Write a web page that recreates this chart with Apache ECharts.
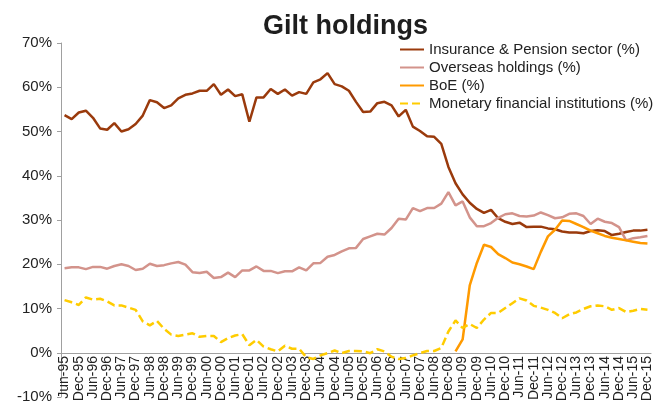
<!DOCTYPE html>
<html>
<head>
<meta charset="utf-8">
<script src="https://cdn.jsdelivr.net/npm/echarts@6/dist/echarts.min.js"></script>
<style>
    html, body { margin: 0; padding: 0; background: #fff; }
    #container_gilt { width: 657px; height: 401px; }
</style>
</head>
<body>
<div id="container_gilt"></div>
<script>
// quarterly categories, Jun-95 .. Dec-15
var quarters = [
    'Jun-95', 'Sep-95', 'Dec-95',
    'Mar-96', 'Jun-96', 'Sep-96', 'Dec-96',
    'Mar-97', 'Jun-97', 'Sep-97', 'Dec-97',
    'Mar-98', 'Jun-98', 'Sep-98', 'Dec-98',
    'Mar-99', 'Jun-99', 'Sep-99', 'Dec-99',
    'Mar-00', 'Jun-00', 'Sep-00', 'Dec-00',
    'Mar-01', 'Jun-01', 'Sep-01', 'Dec-01',
    'Mar-02', 'Jun-02', 'Sep-02', 'Dec-02',
    'Mar-03', 'Jun-03', 'Sep-03', 'Dec-03',
    'Mar-04', 'Jun-04', 'Sep-04', 'Dec-04',
    'Mar-05', 'Jun-05', 'Sep-05', 'Dec-05',
    'Mar-06', 'Jun-06', 'Sep-06', 'Dec-06',
    'Mar-07', 'Jun-07', 'Sep-07', 'Dec-07',
    'Mar-08', 'Jun-08', 'Sep-08', 'Dec-08',
    'Mar-09', 'Jun-09', 'Sep-09', 'Dec-09',
    'Mar-10', 'Jun-10', 'Sep-10', 'Dec-10',
    'Mar-11', 'Jun-11', 'Sep-11', 'Dec-11',
    'Mar-12', 'Jun-12', 'Sep-12', 'Dec-12',
    'Mar-13', 'Jun-13', 'Sep-13', 'Dec-13',
    'Mar-14', 'Jun-14', 'Sep-14', 'Dec-14',
    'Mar-15', 'Jun-15', 'Sep-15', 'Dec-15'
];

var insurance = [
    53.7, 52.8, 54.3, 54.7, 53.1, 50.7, 50.4, 51.9, 50.0, 50.5,
    51.7, 53.6, 57.1, 56.6, 55.3, 55.9, 57.5, 58.3, 58.6, 59.2,
    59.2, 60.7, 58.3, 59.5, 58.0, 58.4, 52.2, 57.7, 57.7, 59.6,
    58.5, 59.5, 58.1, 58.9, 58.5, 61.1, 61.8, 63.2, 60.7, 60.2,
    59.2, 56.7, 54.4, 54.5, 56.4, 56.7, 55.9, 53.4, 54.9, 51.1,
    50.1, 48.9, 48.8, 47.2, 42.0, 38.3, 35.8, 33.9, 32.5, 31.6,
    32.3, 30.4, 29.6, 29.1, 29.4, 28.4, 28.5, 28.5, 28.1, 27.9,
    27.4, 27.2, 27.2, 27.0, 27.5, 27.7, 27.5, 26.6, 26.9, 27.3,
    27.6, 27.6, 27.8
];

var overseas = [
    19.1, 19.3, 19.3, 18.9, 19.4, 19.4, 19.0, 19.6, 20.0, 19.6,
    18.7, 19.0, 20.1, 19.6, 19.8, 20.2, 20.5, 19.9, 18.2, 18.0,
    18.3, 16.9, 17.1, 18.1, 17.1, 18.6, 18.6, 19.5, 18.5, 18.5,
    18.0, 18.4, 18.4, 19.3, 18.6, 20.2, 20.3, 21.7, 22.1, 22.9,
    23.6, 23.7, 25.7, 26.3, 26.9, 26.7, 28.2, 30.3, 30.1, 32.7,
    32.0, 32.7, 32.7, 33.7, 36.3, 33.3, 34.2, 30.6, 28.6, 28.6,
    29.3, 30.5, 31.3, 31.5, 30.9, 30.8, 31.0, 31.7, 31.1, 30.4,
    30.6, 31.4, 31.5, 30.9, 29.1, 30.3, 29.6, 29.3, 28.4, 25.4,
    25.9, 26.1, 26.4
];

// BoE holdings only start with QE
var boeQuarters = [
    'Mar-09', 'Jun-09', 'Sep-09', 'Dec-09',
    'Mar-10', 'Jun-10', 'Sep-10', 'Dec-10',
    'Mar-11', 'Jun-11', 'Sep-11', 'Dec-11',
    'Mar-12', 'Jun-12', 'Sep-12', 'Dec-12',
    'Mar-13', 'Jun-13', 'Sep-13', 'Dec-13',
    'Mar-14', 'Jun-14', 'Sep-14', 'Dec-14',
    'Mar-15', 'Jun-15', 'Sep-15', 'Dec-15'
];
var boe = [
    0.3, 3.0, 15.2, 20.3,
    24.4, 23.9, 22.3, 21.4,
    20.4, 20.0, 19.5, 18.9,
    22.8, 26.3, 27.8, 29.9,
    29.8, 29.1, 28.4, 27.6,
    27.0, 26.4, 26.0, 25.7,
    25.4, 25.1, 24.8, 24.7
];

var mfi = [
    11.9, 11.4, 10.8, 12.5, 12.0, 12.2, 11.6, 10.7, 10.7, 10.2,
    9.7, 7.1, 6.2, 7.2, 5.4, 4.1, 3.8, 4.1, 4.4, 3.6,
    3.8, 3.8, 2.4, 3.3, 3.9, 4.2, 1.7, 2.9, 1.4, 0.8,
    0.3, 1.6, 0.9, 0.9, -1.0, -1.4, -0.6, -0.1, 0.5, -0.1,
    0.4, 0.4, 0.3, -0.1, 0.8, 0.3, -0.9, -1.4, -1.2, -0.6,
    -0.1, 0.4, 0.4, 1.1, 4.8, 7.3, 5.6, 6.5, 5.6, 7.5,
    9.0, 9.0, 10.1, 11.2, 12.3, 11.8, 10.6, 10.2, 9.7, 9.0,
    7.8, 8.7, 9.1, 9.9, 10.5, 10.7, 10.5, 9.7, 10.1, 9.2,
    9.5, 9.9, 9.7
];

var seriesNames = [
    'Insurance & Pension sector (%)',
    'Overseas holdings (%)',
    'BoE (%)',
    'Monetary financial institutions (%)'
];

var gilt_charts = echarts.init(document.getElementById('container_gilt'));

var option_gilt = {
    animation: false,
    color: ['#9a3a0c', '#d3938b', '#ff9a00', '#ffcc00'],
    textStyle: { fontFamily: '"Liberation Sans", Arial, sans-serif' },
    title: {
        text: 'Gilt holdings',
        left: 258,
        top: 8,
        textStyle: { fontSize: 27, fontWeight: 'bold', color: '#1e1e1e' }
    },
    legend: {
        orient: 'vertical',
        left: 394,
        top: 37,
        itemWidth: 24,
        itemHeight: 14,
        itemGap: 3,
        itemStyle: { opacity: 0 },
        textStyle: { fontSize: 15, color: '#222', lineHeight: 15 },
        data: seriesNames
    },
    grid: { left: 61, right: 6, top: 43, bottom: 4, containLabel: false, outerBoundsMode: 'none' },
    xAxis: {
        type: 'category',
        boundaryGap: true,
        data: quarters,
        // move the axis up to the 0% line (44 px above the grid bottom)
        offset: -44,
        axisLine: { onZero: false, lineStyle: { color: '#a0a0a0', width: 1 } },
        axisTick: { interval: 1, length: 4, lineStyle: { color: '#a0a0a0' } },
        axisLabel: { interval: 1, rotate: 90, fontSize: 14, color: '#222', margin: 3 }
    },
    yAxis: {
        type: 'value',
        min: -10,
        max: 70,
        interval: 10,
        splitLine: { show: false },
        axisLine: { show: true, lineStyle: { color: '#a0a0a0', width: 1 } },
        axisTick: { show: true, length: 4, lineStyle: { color: '#a0a0a0' } },
        axisLabel: { formatter: '{value}%', fontSize: 15, color: '#222', margin: 9 }
    },
    series: [
        {
            name: seriesNames[0],
            type: 'line',
            symbol: 'none',
            lineStyle: { width: 2.5 },
            data: insurance
        },
        {
            name: seriesNames[1],
            type: 'line',
            symbol: 'none',
            lineStyle: { width: 2.5 },
            data: overseas
        },
        {
            name: seriesNames[2],
            type: 'line',
            symbol: 'none',
            lineStyle: { width: 2.5 },
            data: (function () {
                var res = [];
                for (var i = 0; i < boe.length; i++) {
                    res.push([boeQuarters[i], boe[i]]);
                }
                return res;
            })()
        },
        {
            name: seriesNames[3],
            type: 'line',
            symbol: 'none',
            lineStyle: { width: 2.5, type: [8, 4] },
            data: mfi
        }
    ]
};

gilt_charts.setOption(option_gilt);
</script>
</body>
</html>
